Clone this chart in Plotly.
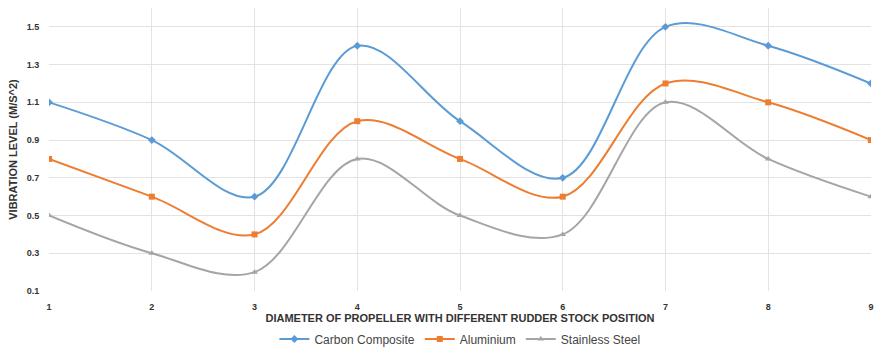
import plotly.graph_objects as go

positions = [1, 2, 3, 4, 5, 6, 7, 8, 9]
carbon = [1.1, 0.9, 0.6, 1.4, 1.0, 0.7, 1.5, 1.4, 1.2]
aluminium = [0.8, 0.6, 0.4, 1.0, 0.8, 0.6, 1.2, 1.1, 0.9]
stainless = [0.5, 0.3, 0.2, 0.8, 0.5, 0.4, 1.1, 0.8, 0.6]
y_ticks = [0.1, 0.3, 0.5, 0.7, 0.9, 1.1, 1.3, 1.5]

series = [
    ("Carbon Composite", carbon, "#5B9BD5", "diamond", 6),
    ("Aluminium", aluminium, "#ED7D31", "square", 6),
    ("Stainless Steel", stainless, "#A5A5A5", "triangle-up", 6),
]

fig = go.Figure()
for name, vals, col, sym, sz in series:
    fig.add_trace(go.Scatter(
        x=positions, y=vals, name=name, mode="lines+markers",
        line=dict(color=col, width=2, shape="spline", smoothing=1),
        marker=dict(color=col, symbol=sym, size=sz),
    ))

fig.update_layout(
    width=876, height=348,
    margin=dict(l=49, r=5, t=8, b=57, autoexpand=False),
    paper_bgcolor="white", plot_bgcolor="white",
    font=dict(family="Arial, Liberation Sans, sans-serif", color="#333333"),
    showlegend=True,
    legend=dict(orientation="h", x=0.525, xanchor="center", y=9 / 348, yanchor="middle",
                xref="container", yref="container",
                font=dict(size=12, color="#444444"), traceorder="normal",
                itemwidth=30, tracegroupgap=0),
    xaxis=dict(
        range=[0.999, 9.001], tickvals=positions, ticktext=[f"<b>{p}</b>" for p in positions],
        showgrid=True, gridcolor="#E3E3E3", gridwidth=1, zeroline=False,
        showline=False, tickfont=dict(size=9, color="#333333"),
        ticks="outside", ticklen=7, tickcolor="white", automargin=False,
        ticklabeloverflow="allow",
        title=dict(text="<b>DIAMETER OF PROPELLER WITH DIFFERENT RUDDER STOCK POSITION</b>",
                   font=dict(size=11, color="#333333"), standoff=14),
    ),
    yaxis=dict(
        range=[0.1, 1.6], tickvals=y_ticks, ticktext=[f"<b>{t}</b>" for t in y_ticks],
        showgrid=True, gridcolor="#E3E3E3", gridwidth=1, zeroline=False,
        showline=False, tickfont=dict(size=9, color="#333333"),
        ticks="outside", ticklen=7, tickcolor="white", automargin=False,
        ticklabeloverflow="allow",
        title=dict(text="<b>VIBRATION LEVEL (M/S^2)</b>",
                   font=dict(size=11, color="#333333"), standoff=6),
    ),
)

fig.write_html(
    "out.html",
    config={"displayModeBar": False},
    post_script="document.body.style.margin='0';document.body.style.overflow='hidden';",
)
